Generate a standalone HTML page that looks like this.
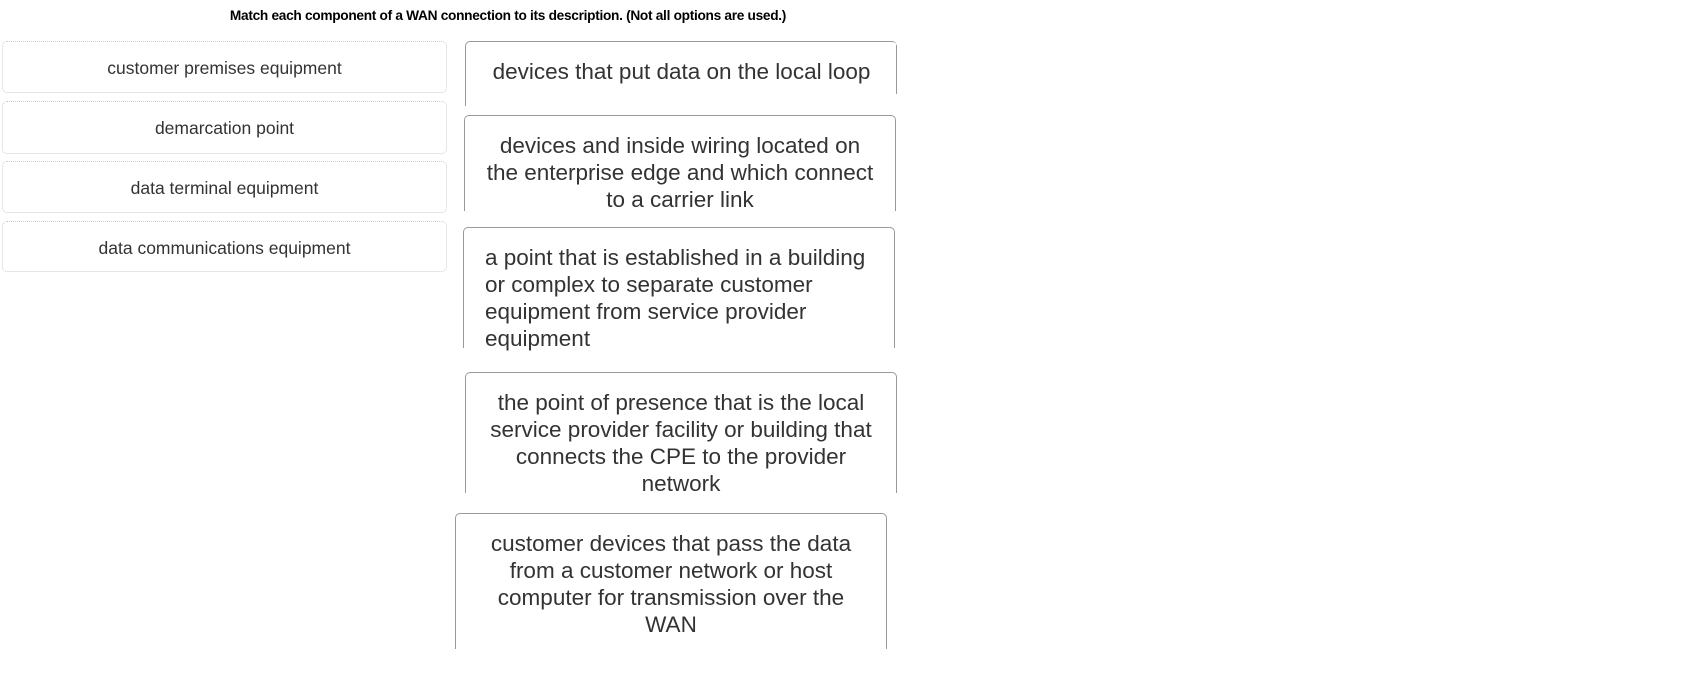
<!DOCTYPE html>
<html><head><meta charset="utf-8"><style>
body{margin:0;width:1693px;height:681px;background:#fff;position:relative;overflow:hidden;font-family:"Liberation Sans",Arial,sans-serif;}
.t{position:absolute;left:0;width:1016px;top:8px;text-align:center;font-weight:bold;font-size:13.7px;color:#000;letter-spacing:-0.3px}
.l{position:absolute;left:2px;width:445px;border:1px dotted #ccc;border-radius:5px;text-align:center;font-size:17.5px;color:#333;box-sizing:border-box}
.r{position:absolute;width:432px;border:1px solid #999;border-bottom:none;border-radius:5px 5px 0 0;box-sizing:border-box;color:#333;font-size:22.5px;line-height:27px;text-align:center;padding-top:16px;white-space:nowrap}
</style></head><body>
<div class="t">Match each component of a WAN connection to its description. (Not all options are used.)</div>
<div class="l" style="top:41px;height:52px;line-height:52px">customer premises equipment</div>
<div class="l" style="top:101px;height:53px;line-height:53px">demarcation point</div>
<div class="l" style="top:161px;height:52px;line-height:53px">data terminal equipment</div>
<div class="l" style="top:221px;height:51px;line-height:53px">data communications equipment</div>

<div class="r" style="left:465px;top:41px;height:65px;border-right:none">devices that put data on the local loop</div>
<div style="position:absolute;left:896px;top:45px;width:1px;height:49px;background:#999"></div>
<div class="r" style="left:464px;top:115px;height:96px">devices and inside wiring located on<br>the enterprise edge and which connect<br>to a carrier link</div>
<div class="r" style="left:463px;top:227px;height:121px;text-align:left;padding-left:21px">a point that is established in a building<br>or complex to separate customer<br>equipment from service provider<br>equipment</div>
<div class="r" style="left:465px;top:372px;height:121px">the point of presence that is the local<br>service provider facility or building that<br>connects the CPE to the provider<br>network</div>
<div class="r" style="left:455px;top:513px;height:136px">customer devices that pass the data<br>from a customer network or host<br>computer for transmission over the<br>WAN</div>
</body></html>
